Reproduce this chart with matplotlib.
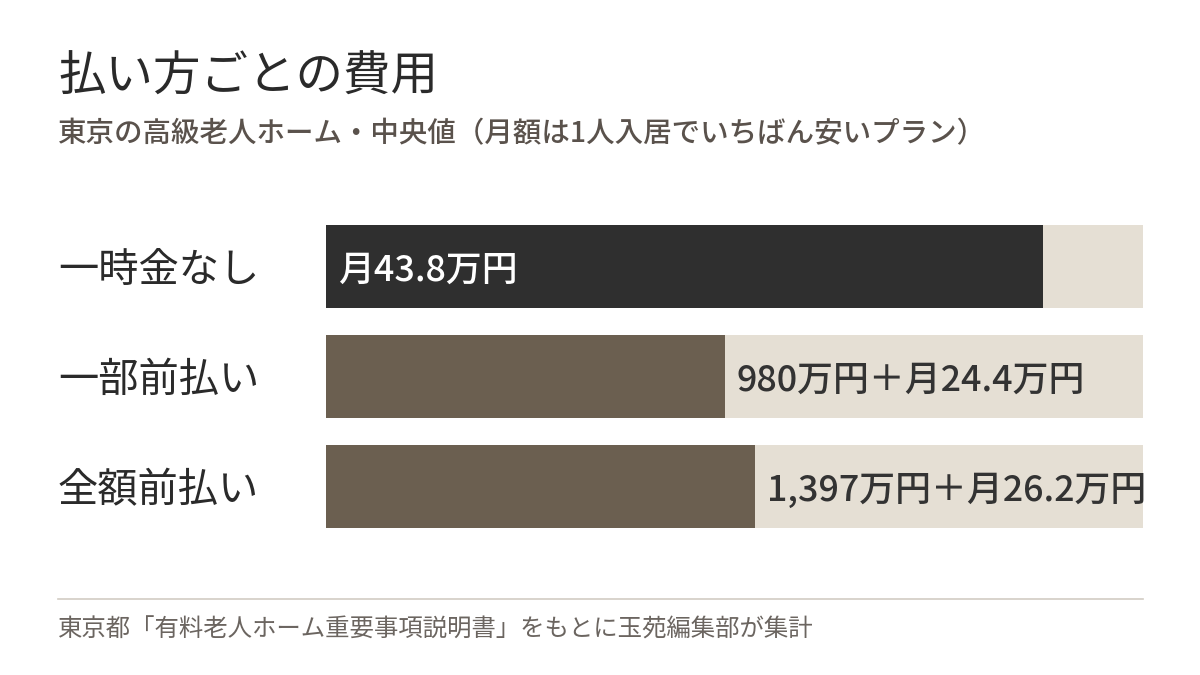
#!/usr/bin/env python3
# -*- coding: utf-8 -*-

import matplotlib
matplotlib.use('Agg')
import matplotlib.pyplot as plt
from matplotlib.lines import Line2D

plt.rcParams['font.family'] = ['Noto Sans CJK JP', 'DejaVu Sans']

TITLE = '払い方ごとの費用'
SUBTITLE = '東京の高級老人ホーム・中央値（月額は1人入居でいちばん安いプラン）'
SOURCE = '東京都「有料老人ホーム重要事項説明書」をもとに玉苑編集部が集計'

categories = ['一時金なし', '一部前払い', '全額前払い']
# bar length as share of the full (background) bar, in %
bar_values = [87.8, 48.8, 52.5]
bar_labels = ['月43.8万円', '980万円＋月24.4万円', '1,397万円＋月26.2万円']
bar_colors = ['#2f2f2f', '#6b5f50', '#6b5f50']
label_inside = [True, False, False]

BG = '#e5dfd4'
FULL = 100

fig = plt.figure(figsize=(12, 6.75), dpi=100)
W, H = 1200, 675

ax = fig.add_axes([326 / W, 1 - 528 / H, (1143 - 326) / W, (528 - 225) / H])
ypos = list(range(len(categories)))
h = 83 / 110

ax.barh(ypos, [FULL] * len(categories), height=h, color=BG, zorder=1)
ax.barh(ypos, bar_values, height=h, color=bar_colors, zorder=2)

for y, v, lab, inside in zip(ypos, bar_values, bar_labels, label_inside):
    x0 = 0 if inside else v
    col = 'white' if inside else '#333333'
    ax.annotate(lab, xy=(x0, y), xytext=(8.5, -3), textcoords='offset points',
                va='center', ha='left', fontsize=25.8, fontweight='medium',
                color=col, zorder=3)

ax.set_xlim(0, FULL)
ax.set_ylim(len(categories) - 1 + h / 2, -h / 2)
ax.axis('off')

# category labels on the left
for y, cat in zip(ypos, categories):
    yy = ax.transData.transform((0, y))[1]
    _, yf = fig.transFigure.inverted().transform((0, yy - 4))
    fig.text(58 / W, yf, cat, fontsize=29, color='#2a2a2a', va='center', ha='left')

fig.text(58 / W, 1 - 77 / H, TITLE, fontsize=34.2, color='#2a2a2a', va='center', ha='left')
fig.text(58 / W, 1 - 134 / H, SUBTITLE, fontsize=20.5, color='#5a524c',
         fontweight='medium', va='center', ha='left')

fig.add_artist(Line2D([58 / W, 1143 / W], [1 - 599 / H, 1 - 599 / H],
                      transform=fig.transFigure, color='#d2ccc4', lw=1.2))
fig.text(58 / W, 1 - 630 / H, SOURCE, fontsize=17.6, color='#6b6560',
         va='center', ha='left')

fig.savefig('out.png', dpi=100, facecolor='white')
